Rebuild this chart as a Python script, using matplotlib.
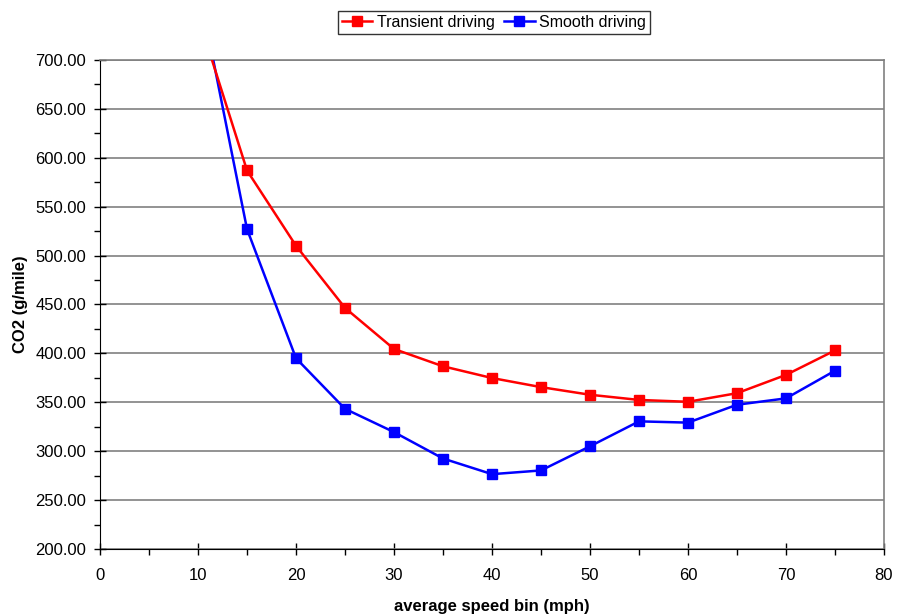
import numpy as np
import matplotlib.pyplot as plt
from matplotlib.ticker import MultipleLocator, FormatStrFormatter

plt.rcParams['font.family'] = ['Liberation Sans', 'DejaVu Sans']

speed = [10, 15, 20, 25, 30, 35, 40, 45, 50, 55, 60, 65, 70, 75]
transient = [745, 587, 510, 446.5, 404.5, 386.8, 374.8, 365.5, 357.7, 352.4, 350.5, 359.3, 378, 403]
smooth = [778, 527, 395, 343.3, 319.5, 292.5, 276.5, 280.3, 305, 330.5, 329.2, 347.5, 354, 382.3]

fig = plt.figure(figsize=(8.98, 6.14), dpi=100)
ax = fig.add_axes([0.1114, 0.1059, 0.8730, 0.7964])

ax.yaxis.set_major_locator(MultipleLocator(50))
ax.yaxis.set_minor_locator(MultipleLocator(25))
ax.xaxis.set_major_locator(MultipleLocator(10))
ax.xaxis.set_minor_locator(MultipleLocator(5))
ax.yaxis.set_major_formatter(FormatStrFormatter('%.2f'))
ax.grid(axis='y', which='major', color='#808080', linewidth=1.2, zorder=0)
ax.set_axisbelow(True)

[l_smooth] = ax.plot(speed, smooth, color='#0000FF', linewidth=1.8, marker='s',
                     markersize=7.5, label='Smooth driving', zorder=3)
[l_trans] = ax.plot(speed, transient, color='#FF0000', linewidth=1.8, marker='s',
                    markersize=7.5, label='Transient driving', zorder=4)

ax.set_xlim(0, 80)
ax.set_ylim(200, 700)

ax.spines['top'].set_color('#808080')
ax.spines['right'].set_color('#808080')
ax.spines['right'].set_linewidth(1.2)
ax.spines['top'].set_linewidth(1.2)
ax.tick_params(axis='both', which='major', direction='inout', length=8, width=1, labelsize=12)
ax.tick_params(axis='both', which='minor', direction='out', length=4, width=1)
ax.tick_params(axis='x', which='major', pad=10)
ax.tick_params(axis='y', which='major', pad=6)

ax.set_xlabel('average speed bin (mph)', fontsize=12, fontweight='bold', labelpad=11)
ax.set_ylabel('CO2 (g/mile)', fontsize=12, fontweight='bold', labelpad=5)

fig.legend(handles=[l_trans, l_smooth], loc='center', bbox_to_anchor=(0.550, 0.964),
           ncol=2, fontsize=11.5, frameon=True, fancybox=False, edgecolor='black',
           handlelength=1.9, handletextpad=0.3, columnspacing=0.6, borderpad=0.25,
           markerscale=1.0)

fig.savefig('out.png', dpi=100)
